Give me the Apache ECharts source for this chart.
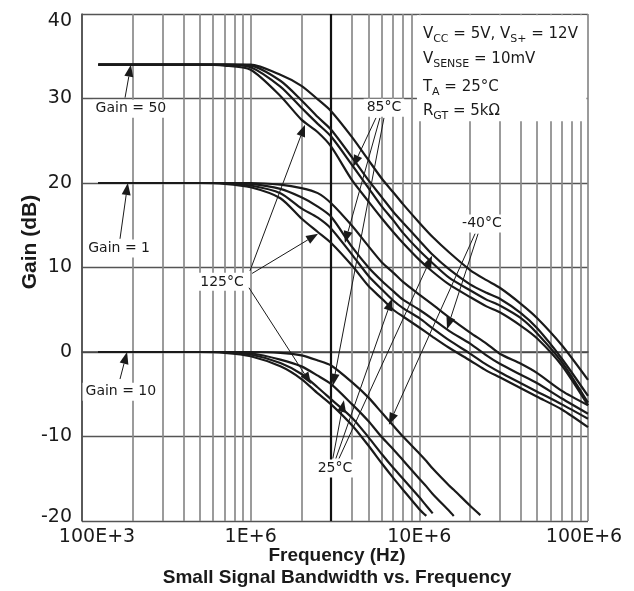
<!DOCTYPE html>
<html>
<head>
<meta charset="utf-8">
<script src="https://cdn.jsdelivr.net/npm/echarts@6/dist/echarts.min.js"></script>
<style>
html,body{margin:0;padding:0;background:#ffffff;}
#chart{width:634px;height:591px;}
</style>
</head>
<body>
<div id="chart"></div>
<script>
// ---------------- data ----------------
// frequency points (Hz) for the Gain = 50 and Gain = 1 families
const FREQ = [1.25e5, 2e5, 5e5, 7e5, 1e6, 1.5e6, 2e6, 2.5e6, 3e6, 4e6, 5e6, 6e6, 7e6, 8e6,
              1e7, 1.2e7, 1.5e7, 2e7, 2.5e7, 3e7, 4e7, 5e7, 7e7, 1e8];
// Gain = 50 family (dB)
const G50_A = [34.0, 34.0, 34.0, 34.0, 34.0, 32.8, 31.5, 29.9, 28.5, 25.4, 22.7, 20.5, 18.9, 17.5, 15.3, 13.6, 11.8, 9.7, 8.5, 7.6, 5.7, 4.0, 0.8, -3.3];
const G50_B = [34.0, 34.0, 34.0, 34.0, 33.9, 32.1, 29.8, 27.8, 26.3, 23.0, 20.3, 18.3, 16.6, 15.3, 13.2, 11.5, 9.8, 8.0, 7.0, 6.3, 4.6, 2.8, -0.8, -5.2];
const G50_C = [34.0, 34.0, 34.0, 34.0, 33.7, 31.4, 28.9, 27.0, 25.5, 22.1, 19.4, 17.2, 15.6, 14.1, 12.0, 10.5, 8.8, 7.3, 6.2, 5.5, 4.0, 2.2, -1.2, -6.0];
const G50_D = [34.0, 34.0, 34.0, 33.9, 33.4, 30.3, 27.5, 26.0, 24.3, 20.3, 17.8, 15.8, 14.2, 12.9, 10.9, 9.5, 8.0, 6.5, 5.4, 4.7, 3.1, 1.6, -1.6, -6.3];
// Gain = 1 family (dB)
const G1_A = [20.0, 20.0, 20.0, 20.0, 20.0, 19.8, 19.4, 18.8, 17.6, 14.9, 12.5, 10.6, 9.4, 8.3, 6.8, 5.6, 4.1, 2.3, 1.0, -0.2, -1.4, -2.5, -4.6, -6.3];
const G1_B = [20.0, 20.0, 20.0, 20.0, 19.9, 19.3, 18.3, 17.2, 16.0, 12.4, 10.0, 8.4, 7.2, 6.2, 5.0, 3.9, 2.5, 1.0, -0.4, -1.4, -2.7, -3.7, -5.5, -7.3];
const G1_C = [20.0, 20.0, 20.0, 20.0, 19.7, 18.8, 17.0, 15.9, 14.6, 11.5, 9.0, 7.4, 6.1, 5.2, 4.0, 2.8, 1.4, -0.2, -1.5, -2.4, -3.7, -4.7, -6.2, -7.9];
const G1_D = [20.0, 20.0, 20.0, 19.9, 19.5, 18.2, 15.8, 14.2, 12.9, 10.2, 7.8, 6.3, 5.0, 4.2, 2.9, 1.8, 0.5, -1.0, -2.2, -3.0, -4.3, -5.3, -6.8, -8.9];
// frequency points (Hz) for the Gain = 10 family
const FREQ_10 = [1.25e5, 2e5, 5e5, 7e5, 1e6, 1.5e6, 2e6, 2.5e6, 3e6, 4e6, 5e6, 6e6, 7e6, 8e6,
                 1e7, 1.1e7, 1.2e7, 1.5e7, 1.6e7, 2e7, 2.3e7];
const G10_A = [0, 0, 0, 0, 0, -0.1, -0.4, -1.0, -1.6, -3.6, -5.4, -7.2, -8.7, -10.0, -12.0, -12.9, -13.8, -15.8, -16.3, -18.2, -19.3];
const G10_B = [0, 0, 0, 0, -0.15, -0.9, -1.7, -2.8, -3.8, -6.2, -8.2, -10.1, -11.5, -12.8, -15.0, -15.9, -16.8, -18.8, -19.4, null, null];
const G10_C = [0, 0, 0, 0, -0.3, -1.3, -2.6, -4.2, -5.6, -7.8, -10.1, -12.1, -13.7, -15.0, -17.2, -18.2, -19.1, null, null, null, null];
const G10_D = [0, 0, 0, -0.1, -0.5, -1.7, -3.2, -4.9, -6.2, -8.7, -11.1, -13.2, -14.9, -16.3, -18.6, -19.4, null, null, null, null, null];

// axis ticks
const X_TICK_EXP = [5, 6, 7, 8];
const X_TICK_LABELS = ['100E+3', '1E+6', '10E+6', '100E+6'];
const MINOR_MULT = [2, 3, 4, 5, 6, 7, 8, 9];
const HEAVY_LINE_FREQ = 3e6;

// annotations: [text, freq, dB]
const LABELS = [
  ['Gain = 50', 1.95e5, 28.8],
  ['Gain = 1', 1.66e5, 12.25],
  ['Gain = 10', 1.70e5, -4.7],
  ['125°C', 6.76e5, 8.3],
  ['85°C', 6.17e6, 28.9],
  ['25°C', 3.16e6, -13.8],
  ['-40°C', 2.35e7, 15.2]
];
// arrows: [tailFreq, tailDb, tipFreq, tipDb]
const ARROWS = [
  [1.80e5, 30.1, 1.95e5, 34.0],
  [1.68e5, 13.4, 1.87e5, 20.0],
  [1.68e5, -3.2, 1.85e5, 0.0],
  [9.9e5, 9.6, 2.10e6, 26.9],
  [1.02e6, 9.3, 2.51e6, 14.0],
  [9.77e5, 7.6, 2.28e6, -3.8],
  [5.53e6, 27.7, 4.04e6, 21.9],
  [5.84e6, 27.7, 3.62e6, 12.9],
  [6.17e6, 27.7, 3.07e6, -4.0],
  [3.07e6, -12.6, 3.57e6, -5.7],
  [3.20e6, -12.6, 6.88e6, 6.3],
  [3.34e6, -12.6, 1.19e7, 11.4],
  [2.23e7, 14.0, 1.46e7, 2.7],
  [2.14e7, 14.0, 6.60e6, -8.6]
];
const INFO_LINES = [
  '{m|V}{s|CC}{m| = 5V, V}{s|S+}{m| = 12V}',
  '{m|V}{s|SENSE}{m| = 10mV}',
  '{m|T}{s|A}{m| = 25°C}',
  '{m|R}{s|GT}{m| = 5kΩ}'
];
const INFO_DB = [37.6, 34.6, 31.3, 28.5];

// ---------------- chart ----------------
const INK = '#1a1a1a';
const chart = echarts.init(document.getElementById('chart'));

function curve(freqs, gains) {
  const out = [];
  for (let i = 0; i < freqs.length; i++) if (gains[i] !== null) out.push([freqs[i], gains[i]]);
  return out;
}
const families = [
  [FREQ, G50_A], [FREQ, G50_B], [FREQ, G50_C], [FREQ, G50_D],
  [FREQ, G1_A], [FREQ, G1_B], [FREQ, G1_C], [FREQ, G1_D],
  [FREQ_10, G10_A], [FREQ_10, G10_B], [FREQ_10, G10_C], [FREQ_10, G10_D]
];
const minorLines = [];
X_TICK_EXP.slice(0, 3).forEach(e => MINOR_MULT.forEach(m => {
  const v = m * Math.pow(10, e);
  if (Math.abs(v - HEAVY_LINE_FREQ) > 1) minorLines.push({ xAxis: v });
}));
minorLines.push({ xAxis: HEAVY_LINE_FREQ, lineStyle: { color: '#111', width: 2.2, type: 'solid' } });

const series = [{
  type: 'line', data: [], silent: true, z: 1, animation: false,
  markLine: {
    silent: true, animation: false, symbol: ['none', 'none'], label: { show: false },
    lineStyle: { color: '#8a8a8a', width: 1.7, type: 'solid' },
    emphasis: { disabled: true },
    data: minorLines
  }
}];
families.forEach(([f, g]) => series.push({
  type: 'line', data: curve(f, g), showSymbol: false, symbol: 'none',
  smooth: 0.25, silent: true, animation: false, z: 5,
  lineStyle: { color: INK, width: 2.2 }
}));

const tickFont = 'DejaVu Sans';
chart.setOption({
  animation: false,
  backgroundColor: '#ffffff',
  grid: { left: 82, top: 14, right: 46, bottom: 70 },
  xAxis: {
    type: 'log', logBase: 10, min: 1e5, max: 1e8,
    axisLine: { show: true, lineStyle: { color: '#444', width: 1.5 } },
    axisTick: { show: false },
    splitLine: { show: true, lineStyle: { color: '#8a8a8a', width: 1.7 } },
    axisLabel: {
      margin: 7, color: INK, fontFamily: tickFont, fontSize: 19,
      formatter: v => {
        const i = X_TICK_EXP.indexOf(Math.round(Math.log10(v)));
        if (i === 0) return '{l|' + X_TICK_LABELS[i] + '}';
        if (i === X_TICK_LABELS.length - 1) return '{r|' + X_TICK_LABELS[i] + '}';
        return i >= 0 ? X_TICK_LABELS[i] : '';
      },
      rich: {
        l: { fontFamily: tickFont, fontSize: 19, color: INK, padding: [0, 0, 0, 30] },
        r: { fontFamily: tickFont, fontSize: 19, color: INK, padding: [0, 8, 0, 0] }
      }
    }
  },
  yAxis: {
    type: 'value', min: -20, max: 40, interval: 10,
    axisLine: { show: true, lineStyle: { color: '#444', width: 1.5 } },
    axisTick: { show: false },
    splitLine: { show: true, lineStyle: { color: '#555', width: 1.3 } },
    axisLabel: {
      margin: 10, color: INK, fontFamily: tickFont, fontSize: 19,
      formatter: v => v === 40 ? '{t|40}' : (v === -20 ? '{b|-20}' : String(v)),
      rich: {
        t: { fontFamily: tickFont, fontSize: 19, color: INK, padding: [14, 0, 0, 0] },
        b: { fontFamily: tickFont, fontSize: 19, color: INK, padding: [0, 0, 8, 0] }
      }
    }
  },
  series: series
});

function px(f, g) { return chart.convertToPixel({ gridIndex: 0 }, [f, g]); }
const graphics = [];
ARROWS.forEach(([tf, tg, hf, hg]) => {
  const a = px(tf, tg), b = px(hf, hg);
  const dx = b[0] - a[0], dy = b[1] - a[1];
  const L = Math.hypot(dx, dy), ux = dx / L, uy = dy / L;
  const hl = 12, hw = 4.5;
  const bx = b[0] - ux * hl, by = b[1] - uy * hl;
  graphics.push({ type: 'line', silent: true, z: 50,
    shape: { x1: a[0], y1: a[1], x2: bx, y2: by }, style: { stroke: INK, lineWidth: 1 } });
  graphics.push({ type: 'polygon', silent: true, z: 50,
    shape: { points: [[b[0], b[1]], [bx - uy * hw, by + ux * hw], [bx + uy * hw, by - ux * hw]] },
    style: { fill: INK } });
});
LABELS.forEach(([t, f, g]) => {
  const p = px(f, g);
  graphics.push({ type: 'text', silent: true, z: 60, x: p[0], y: p[1],
    style: { text: t, font: '14px "DejaVu Sans"', fill: INK, align: 'center', verticalAlign: 'middle',
      backgroundColor: '#ffffff', padding: [2, 3] } });
});
// info box
const boxTL = px(9.68e6, 39.85), boxBR = px(9.8e7, 27.3);
graphics.push({ type: 'rect', silent: true, z: 40,
  shape: { x: boxTL[0], y: boxTL[1], width: boxBR[0] - boxTL[0], height: boxBR[1] - boxTL[1] },
  style: { fill: '#ffffff' } });
const infoX = px(1.05e7, 0)[0];
INFO_LINES.forEach((t, i) => {
  const y = px(1e7, INFO_DB[i])[1];
  graphics.push({ type: 'text', silent: true, z: 60, x: infoX, y: y - 8,
    style: { text: t, align: 'left', verticalAlign: 'top',
      rich: {
        m: { fontFamily: 'DejaVu Sans', fontSize: 15, fill: INK, verticalAlign: 'top', lineHeight: 17 },
        s: { fontFamily: 'DejaVu Sans', fontSize: 11, fill: INK, verticalAlign: 'top', lineHeight: 13, padding: [7, 0, 0, 0] }
      } } });
});
// axis titles
graphics.push({ type: 'text', silent: true, z: 60, x: 30, y: 242, rotation: Math.PI / 2,
  style: { text: 'Gain (dB)', font: 'bold 21px "Liberation Sans"', fill: INK, align: 'center', verticalAlign: 'middle' } });
graphics.push({ type: 'text', silent: true, z: 60, x: 337, y: 556,
  style: { text: 'Frequency (Hz)', font: 'bold 19px "Liberation Sans"', fill: INK, align: 'center', verticalAlign: 'middle' } });
graphics.push({ type: 'text', silent: true, z: 60, x: 337, y: 578,
  style: { text: 'Small Signal Bandwidth vs. Frequency', font: 'bold 19px "Liberation Sans"', fill: INK, align: 'center', verticalAlign: 'middle' } });

chart.setOption({ graphic: graphics });
</script>
</body>
</html>
